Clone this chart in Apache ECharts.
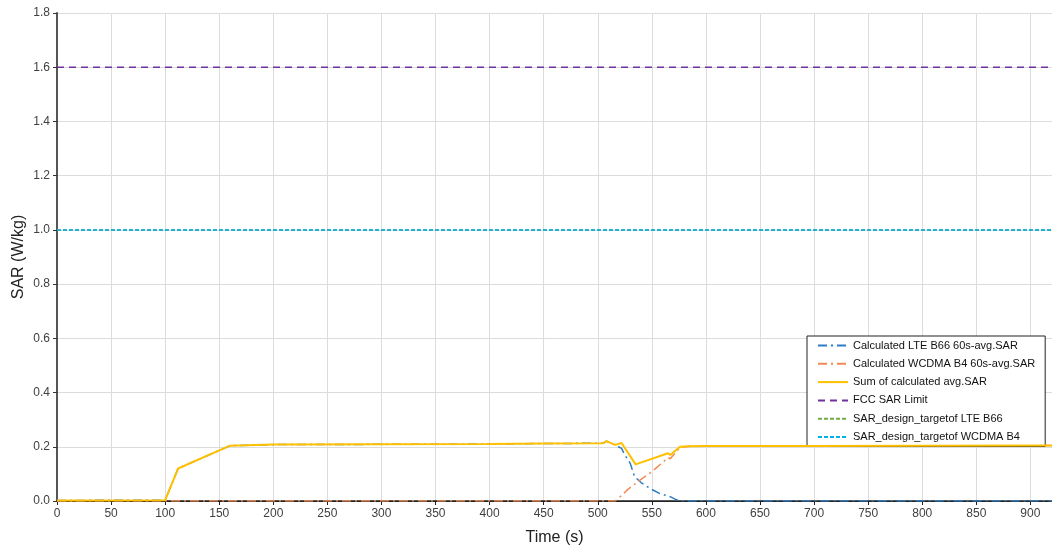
<!DOCTYPE html>
<html>
<head>
<meta charset="utf-8">
<script src="https://cdn.jsdelivr.net/npm/echarts@6/dist/echarts.min.js"></script>
<style>html,body{margin:0;padding:0;background:#fff;}#c{width:1052px;height:549px;}</style>
</head>
<body>
<div id="c"></div>
<script>
// ---- data ----
const seriesNames = [
  'Calculated LTE B66 60s-avg.SAR',
  'Calculated WCDMA B4 60s-avg.SAR',
  'Sum of calculated avg.SAR',
  'FCC SAR Limit',
  'SAR_design_targetof LTE B66',
  'SAR_design_targetof WCDMA B4'
];
const lteTime = [0, 100, 112, 160, 200, 300, 400, 450, 505, 508, 516, 522, 525, 530, 534, 540, 548, 557, 567, 572, 577, 920];
const lteSar  = [0.002, 0.003, 0.12, 0.204, 0.208, 0.209, 0.21, 0.212, 0.213, 0.221, 0.207, 0.194, 0.17, 0.139, 0.09, 0.068, 0.047, 0.028, 0.016, 0.006, 0, 0];
const wcdmaTime = [0, 516, 522, 527, 539, 550, 565, 567, 576, 585, 600, 700, 800, 920];
const wcdmaSar  = [0, 0, 0.02, 0.04, 0.077, 0.108, 0.16, 0.156, 0.197, 0.202, 0.203, 0.203, 0.204, 0.205];
const sumTime = [0, 100, 112, 160, 200, 300, 400, 450, 505, 508, 516, 522, 535, 565, 567, 576, 585, 600, 700, 800, 920];
const sumSar  = [0.002, 0.003, 0.12, 0.204, 0.208, 0.209, 0.21, 0.212, 0.213, 0.221, 0.207, 0.214, 0.135, 0.176, 0.17, 0.2, 0.202, 0.203, 0.203, 0.204, 0.205];
const limitTime = [0, 920];
const fccLimit = [1.6, 1.6];
const lteTarget = [1.0, 1.0];
const wcdmaTarget = [1.0, 1.0];
const xTicks = {min: 0, max: 920, interval: 50};
const yTicks = {min: 0, max: 1.8, interval: 0.2};

function pairs(t, v) { return t.map((x, i) => [x, v[i]]); }

const FONT = '"Liberation Sans", Arial, sans-serif';
const chart = echarts.init(document.getElementById('c'), null, {renderer: 'canvas'});
chart.setOption({
  animation: false,
  backgroundColor: '#fff',
  textStyle: {fontFamily: FONT},
  grid: {left: 57, right: 0, top: 13, bottom: 48, containLabel: false, outerBoundsMode: 'none'},
  xAxis: [{
    type: 'value', min: xTicks.min, max: xTicks.max, interval: xTicks.interval,
    name: 'Time (s)', nameLocation: 'middle', nameGap: 29,
    nameTextStyle: {fontSize: 16, color: '#222', fontFamily: FONT},
    axisLine: {show: true, onZero: false, lineStyle: {color: '#222', width: 1.5}},
    axisTick: {show: true, length: 4, lineStyle: {color: '#222'}},
    axisLabel: {fontSize: 12, color: '#404040', margin: 7, showMaxLabel: false, fontFamily: FONT},
    splitLine: {show: true, lineStyle: {color: '#dcdcdc', width: 1}}
  }, {
    type: 'value', position: 'top', min: xTicks.min, max: xTicks.max, interval: xTicks.interval,
    axisLine: {show: true, lineStyle: {color: '#222', width: 1}},
    axisTick: {show: false}, axisLabel: {show: false}, splitLine: {show: false}
  }],
  yAxis: {
    type: 'value', min: yTicks.min, max: yTicks.max, interval: yTicks.interval,
    name: 'SAR (W/kg)', nameLocation: 'middle', nameGap: 30, nameRotate: 90, nameMoveOverlap: false,
    nameTextStyle: {fontSize: 16, color: '#222', fontFamily: FONT},
    axisLine: {show: true, lineStyle: {color: '#555', width: 2}},
    axisTick: {show: true, length: 4, lineStyle: {color: '#333'}},
    axisLabel: {fontSize: 12, color: '#404040', margin: 7, formatter: v => v.toFixed(1), fontFamily: FONT},
    splitLine: {show: true, lineStyle: {color: '#dcdcdc', width: 1}}
  },
  legend: {
    orient: 'vertical', left: 807, top: 336,
    padding: [4, 10, 4, 10], itemWidth: 30, itemHeight: 11, itemGap: 7.3,
    backgroundColor: '#fff', borderColor: '#222', borderWidth: 1,
    itemStyle: {opacity: 0},
    textStyle: {fontSize: 11, color: '#111', fontFamily: FONT},
    data: seriesNames
  },
  series: [
    {name: seriesNames[0], type: 'line', symbol: 'none', z: 3, data: pairs(lteTime, lteSar),
     lineStyle: {color: '#2E7DC4', width: 1.5, type: [9, 4, 2, 4]}, itemStyle: {color: '#2E7DC4'}},
    {name: seriesNames[1], type: 'line', symbol: 'none', z: 3, data: pairs(wcdmaTime, wcdmaSar),
     lineStyle: {color: '#F08A55', width: 1.5, type: [9, 4, 2, 4]}, itemStyle: {color: '#F08A55'}},
    {name: seriesNames[2], type: 'line', symbol: 'none', z: 5, data: pairs(sumTime, sumSar),
     lineStyle: {color: '#FFC000', width: 2}, itemStyle: {color: '#FFC000'}},
    {name: seriesNames[3], type: 'line', symbol: 'none', z: 3, data: pairs(limitTime, fccLimit),
     lineStyle: {color: '#7030A0', width: 1.5, type: [7, 5]}, itemStyle: {color: '#7030A0'}},
    {name: seriesNames[4], type: 'line', symbol: 'none', z: 3, data: pairs(limitTime, lteTarget),
     lineStyle: {color: '#70AD47', width: 1.5, type: [4, 2]}, itemStyle: {color: '#70AD47'}},
    {name: seriesNames[5], type: 'line', symbol: 'none', z: 4, data: pairs(limitTime, wcdmaTarget),
     lineStyle: {color: '#00B0F0', width: 1.5, type: [4, 2]}, itemStyle: {color: '#00B0F0'}}
  ]
});
</script>
</body>
</html>
